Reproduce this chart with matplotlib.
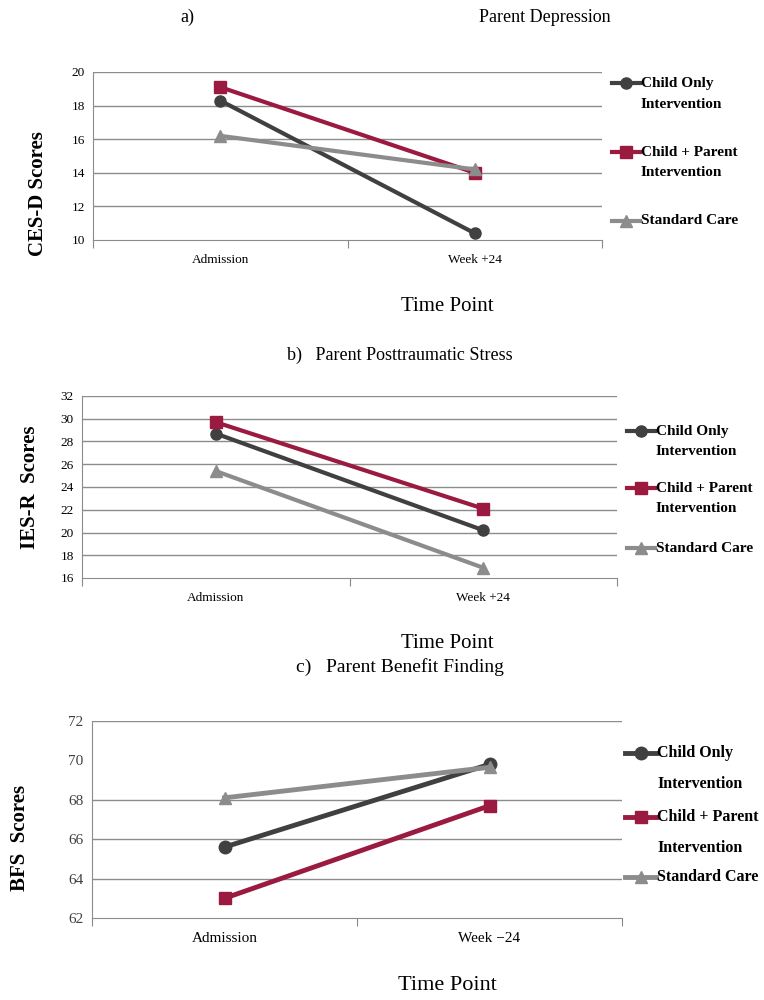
import numpy as np
import matplotlib
matplotlib.use("Agg")
import matplotlib.pyplot as plt
from matplotlib.lines import Line2D

plt.rcParams['font.family'] = ['Liberation Serif', 'DejaVu Serif']

# data
time_points = ["Admission", "Week +24"]
time_points_c = ["Admission", "Week \u221224"]
series_names = ["Child Only\nIntervention", "Child + Parent\nIntervention", "Standard Care"]

dep_child_only = [18.3, 10.4]
dep_child_parent = [19.1, 14.0]
dep_standard = [16.2, 14.2]
dep_ticks = [10, 12, 14, 16, 18, 20]

pts_child_only = [28.7, 20.2]
pts_child_parent = [29.7, 22.1]
pts_standard = [25.4, 16.9]
pts_ticks = [16, 18, 20, 22, 24, 26, 28, 30, 32]

bfs_child_only = [65.6, 69.8]
bfs_child_parent = [63.0, 67.7]
bfs_standard = [68.1, 69.65]
bfs_ticks = [62, 64, 66, 68, 70, 72]
bfs_grid = [64, 66, 68, 72]   # the 70 gridline is missing in the original

colors = ["#404040", "#9b1b40", "#8c8c8c"]
markers = ["o", "s", "^"]

W, H = 764, 1000
fig = plt.figure(figsize=(W / 100, H / 100), dpi=100)


def fx(px):
    return px / W


def fy(py):
    return 1 - py / H


def panel(box, series, ylim, yticks, grid_at, xlabels, tick_fs, tick_col, ylabel, ylab_xy,
          leg_x, leg_rows, leg_gap, leg_fs, ms, lw):
    left, top, right, bottom = box
    ax = fig.add_axes([fx(left), fy(bottom), fx(right - left), (bottom - top) / H])
    for g in grid_at:
        ax.axhline(g, color="#8c8c8c", lw=1, zorder=1)
    for vals, c, m in zip(series, colors, markers):
        ax.plot([0.5, 1.5], vals, color=c, lw=lw, marker=m, ms=ms, zorder=3)
    ax.set_xlim(0, 2)
    ax.set_ylim(*ylim)
    ax.set_yticks(yticks)
    ax.set_yticklabels([str(t) for t in yticks], fontsize=tick_fs, color=tick_col)
    ax.set_xticks([0, 1, 2])
    ax.set_xticklabels([])
    ax.set_xticks([0.5, 1.5], minor=True)
    ax.set_xticklabels(xlabels, minor=True, fontsize=tick_fs)
    ax.tick_params(axis='x', which='major', length=6, color="#888888", direction='out')
    ax.tick_params(axis='x', which='minor', length=0, pad=10)
    ax.tick_params(axis='y', length=0, pad=6)
    for s in ["top", "right"]:
        ax.spines[s].set_visible(False)
    ax.spines["left"].set_color("#8c8c8c")
    ax.spines["bottom"].set_color("#8c8c8c")
    fig.text(fx(ylab_xy[0]), fy(ylab_xy[1]), ylabel, rotation=90, fontsize=15,
             fontweight='bold', ha='center', va='center')
    # legend drawn by hand, marker on the first line of each label
    x0, x1 = leg_x
    for (name, c, m), yrow in zip(zip(series_names, colors, markers), leg_rows):
        fig.add_artist(Line2D([fx(x0), fx((x0 + x1) / 2), fx(x1)], [fy(yrow)] * 3,
                              transform=fig.transFigure, color=c, lw=lw, marker=m,
                              ms=ms, markevery=[1]))
        for k, txt in enumerate(name.split("\n")):
            fig.text(fx(x1 + 1), fy(yrow + k * leg_gap), txt, fontsize=leg_fs,
                     fontweight='bold', ha='left', va='center')
    return ax


# a) depression
panel((93, 72, 602, 240), [dep_child_only, dep_child_parent, dep_standard],
      (10, 20), dep_ticks, dep_ticks[1:], time_points, 9.5, "black", "CES-D Scores", (38, 194),
      (612, 640), [83, 152, 221], 21, 11, 8, 3)
fig.text(fx(187), fy(17), "a)", fontsize=13, ha='center', va='center')
fig.text(fx(545), fy(17), "Parent Depression", fontsize=13, ha='center', va='center')
fig.text(fx(447), fy(307), "Time Point", fontsize=15, ha='center', va='center')

# b) posttraumatic stress
panel((82, 396, 617, 578), [pts_child_only, pts_child_parent, pts_standard],
      (16, 32), pts_ticks, pts_ticks[1:], time_points, 9.5, "black", "IES-R  Scores", (30, 487),
      (627, 655), [431, 488, 548], 20, 11, 8, 3)
fig.text(fx(400), fy(355), "b)   Parent Posttraumatic Stress", fontsize=13, ha='center', va='center')
fig.text(fx(447), fy(643), "Time Point", fontsize=15, ha='center', va='center')

# c) benefit finding
panel((92, 721, 622, 918), [bfs_child_only, bfs_child_parent, bfs_standard],
      (62, 72), bfs_ticks, bfs_grid, time_points_c, 11, "#404040", "BFS  Scores", (20, 838),
      (625, 656), [753, 817, 877], 31, 11.5, 9, 3.5)
fig.text(fx(400), fy(667), "c)   Parent Benefit Finding", fontsize=14, ha='center', va='center')
fig.text(fx(447), fy(985), "Time Point", fontsize=16, ha='center', va='center')

fig.savefig("out.png", dpi=100)
